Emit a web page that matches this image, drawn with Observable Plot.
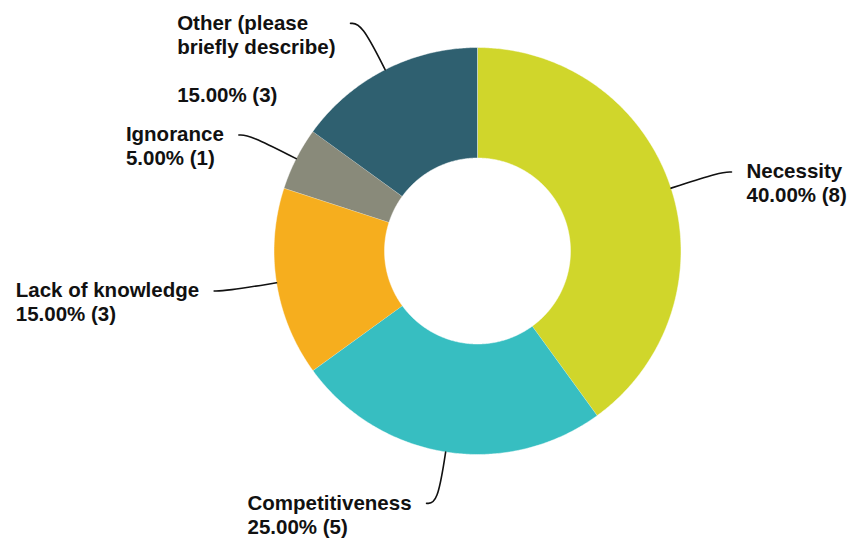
<!DOCTYPE html>
<html>
<head>
<meta charset="utf-8">
<script src="https://cdn.jsdelivr.net/npm/d3@7"></script>
<script src="https://cdn.jsdelivr.net/npm/@observablehq/plot@0.6"></script>
<style>
  html, body { margin: 0; padding: 0; background: #fff; }
  #chart svg { display: block; }
</style>
</head>
<body>
<div id="chart"></div>
<script>
// ---- data ----
const categories = ["Necessity", "Competitiveness", "Lack of knowledge", "Ignorance", "Other (please\nbriefly describe)\n"];
const counts = [8, 5, 3, 1, 3];
const colors = ["#d0d62b", "#37bec1", "#f6ae1e", "#898a7a", "#2f6070"];

// ---- layout (pixel units, 1:1 scales) ----
const W = 848, H = 544;
const cx = 477, cy = 250.5;
const R = 203.5, r0 = 93;
const fontSize = 20.5;
const font = `bold ${fontSize}px 'Liberation Sans', Arial, sans-serif`;

const total = d3.sum(counts);
const fmt = d3.format(".2f");
let acc = 0;
const slices = categories.map((c, i) => {
  const a0 = acc / total * 2 * Math.PI;
  acc += counts[i];
  const a1 = acc / total * 2 * Math.PI;
  return {key: c, i, a0, a1, mid: (a0 + a1) / 2, n: counts[i], pct: counts[i] / total * 100};
});

// slice polygons (angle clockwise from 12 o'clock, y up)
const poly = [];
for (const s of slices) {
  const steps = Math.max(8, Math.ceil((s.a1 - s.a0) / (Math.PI / 360)));
  for (let k = 0; k <= steps; k++) {
    const a = s.a0 + (s.a1 - s.a0) * k / steps;
    poly.push({key: s.key, x: R * Math.sin(a), y: R * Math.cos(a)});
  }
  for (let k = steps; k >= 0; k--) {
    const a = s.a0 + (s.a1 - s.a0) * k / steps;
    poly.push({key: s.key, x: r0 * Math.sin(a), y: r0 * Math.cos(a)});
  }
}

// leaders + labels
const ctx = document.createElement("canvas").getContext("2d");
ctx.font = font;
const leaders = [];
const labels = [];
for (const s of slices) {
  const sx = Math.sin(s.mid), sy = Math.cos(s.mid);
  const side = sx >= 0 ? 1 : -1;
  const p0 = {x: R * sx, y: R * sy};
  const p1 = {x: (R + 52) * sx, y: (R + 52) * sy};
  const p2 = {x: p1.x + side * 11, y: p1.y};
  leaders.push({key: s.key, ...p0}, {key: s.key, ...p1}, {key: s.key, ...p2});
  const text = `${s.key}\n${fmt(s.pct)}% (${s.n})`;
  const w = d3.max(text.split("\n"), t => ctx.measureText(t).width);
  const x = side > 0 ? p2.x + 15 : p2.x - 15 - w;
  labels.push({text, x, y: p2.y + 11});
}

const plot = Plot.plot({
  width: W,
  height: H,
  margin: 0,
  x: {domain: [-cx, W - cx], range: [0, W], axis: null},
  y: {domain: [cy - H, cy], range: [H, 0], axis: null},
  color: {domain: categories, range: colors},
  marks: [
    Plot.line(poly, {x: "x", y: "y", z: "key", fill: "key", stroke: "#ffffff", strokeWidth: 0.6, strokeOpacity: 0.8}),
    Plot.line(leaders, {x: "x", y: "y", z: "key", curve: "basis", stroke: "#111", strokeWidth: 1.6}),
    Plot.text(labels, {
      x: "x", y: "y", text: "text",
      textAnchor: "start", lineAnchor: "top", lineHeight: 1.18,
      fontSize, fontWeight: "bold",
      fontFamily: "'Liberation Sans', Arial, sans-serif",
      fill: "#111"
    })
  ]
});
document.getElementById("chart").appendChild(plot);
</script>
</body>
</html>
